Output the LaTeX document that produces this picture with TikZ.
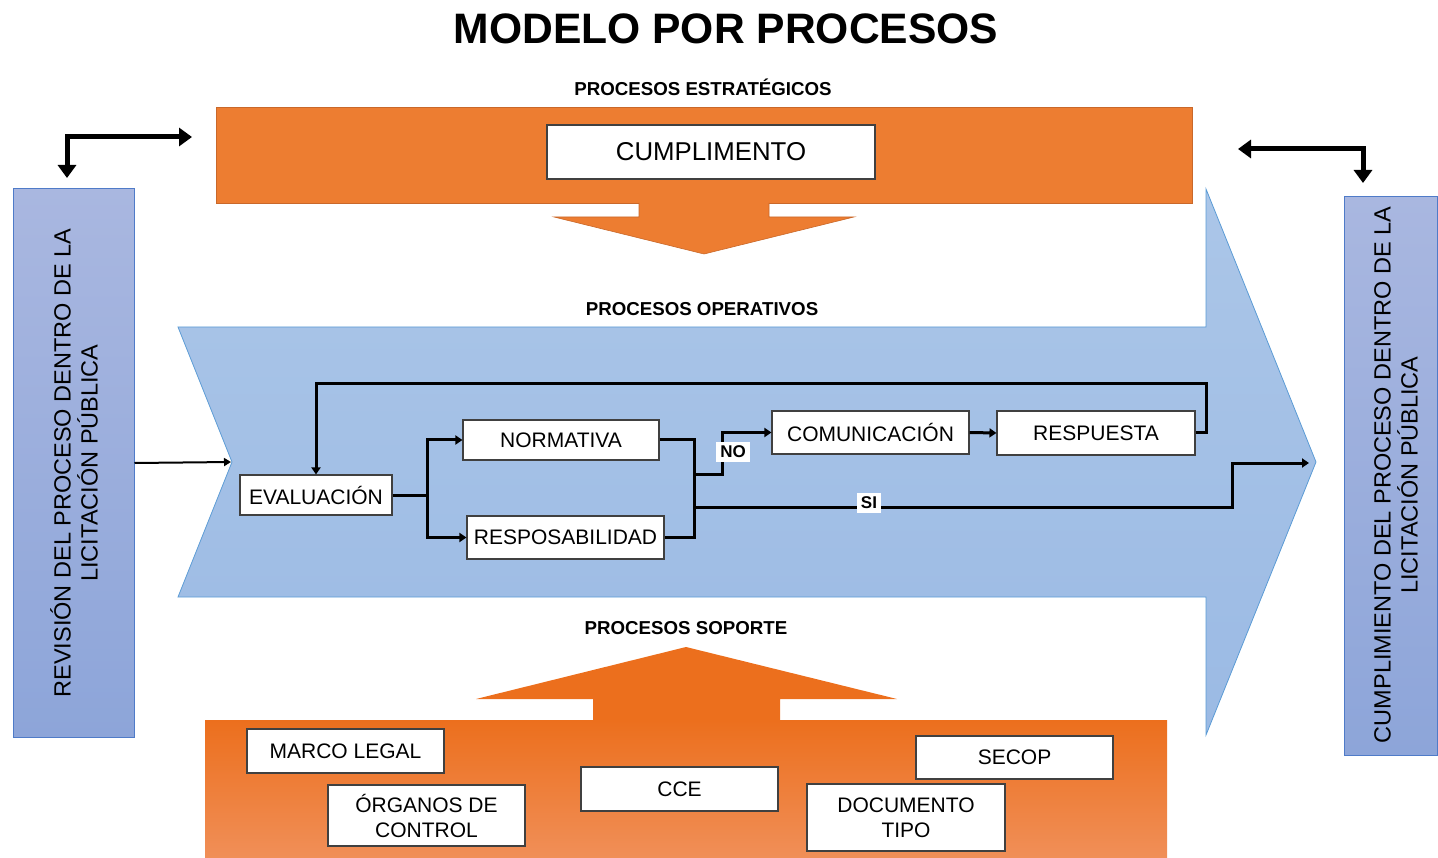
\documentclass[tikz,border=0pt]{standalone}
\usepackage{fontspec}
\setmainfont{Liberation Sans}
\usetikzlibrary{arrows.meta}
\definecolor{orTop}{HTML}{ED7D31}
\definecolor{orEdge}{HTML}{C9682A}
\definecolor{orBotA}{HTML}{EC6F1D}
\definecolor{orBotB}{HTML}{F08F58}
\definecolor{chevA}{HTML}{ABC6E8}
\definecolor{chevB}{HTML}{9BBAE4}
\definecolor{chevEdge}{HTML}{5B9BD5}
\definecolor{panA}{HTML}{A9B7E0}
\definecolor{panB}{HTML}{8DA5D9}
\definecolor{panEdge}{HTML}{4F7BC8}
\definecolor{boxEdge}{HTML}{404040}
\tikzset{
  wbox/.style={draw=boxEdge, line width=1.1pt, fill=white, inner sep=0pt, align=center,
    font=\fontsize{21}{25}\selectfont},
  secttitle/.style={font=\bfseries\fontsize{18.7}{22}\selectfont, inner sep=0pt},
  flow/.style={line width=3pt, line join=miter},
  flowarr/.style={flow, -{Triangle[width=9pt,length=7pt]}},
  bigarr/.style={line width=5pt, {Triangle[width=18pt,length=13pt]}-{Triangle[width=18pt,length=13pt]}},
  tag/.style={fill=white, inner sep=4pt, font=\bfseries\fontsize{17}{19}\selectfont},
  sidetext/.style={rotate=90, align=center, inner sep=0pt, font=\fontsize{23.5}{27}\selectfont},
  panel/.style={draw=panEdge, line width=1pt, top color=panA, bottom color=panB, inner sep=0pt}
}
\begin{document}
\begin{tikzpicture}[x=1pt,y=-1pt]
\useasboundingbox (0,0) rectangle (1438,858);

% title
\node[font=\bfseries\fontsize{42.6}{48}\selectfont, inner sep=0pt] (title) at (726,29) {MODELO POR PROCESOS};

% strategic processes
\node[secttitle] (estr) at (703,87) {PROCESOS ESTRATÉGICOS};
\fill[orTop, draw=orEdge, line width=0.8pt] (216,107) rectangle (1192,203);
\fill[orTop, draw=orEdge, line width=0.6pt] (639,203) -- (639,217) -- (554,217) -- (704,254) -- (854,217) -- (769,217) -- (769,203);
\fill[orTop] (640,200) rectangle (768,206);
\node[wbox, minimum width=328pt, minimum height=54pt, font=\fontsize{25.8}{29}\selectfont] (cumpl) at (711,152) {CUMPLIMENTO};

% big chevron arrow
\shadedraw[draw=chevEdge, line width=0.8pt, top color=chevA, bottom color=chevB]
  (178,327) -- (1206,327) -- (1206,189) -- (1316,462) -- (1206,735) -- (1206,597) -- (178,597) -- (232,462) -- cycle;
\coordinate (notch) at (231,462);
\node[secttitle] (oper) at (702,309) {PROCESOS OPERATIVOS};

% side panels
\node[panel, minimum width=121pt, minimum height=548pt] (lpanel) at (73.5,463) {};
\node[sidetext] (ltext) at (74,463) {REVISIÓN DEL PROCESO DENTRO DE LA\\LICITACIÓN PÚBLICA};
\node[panel, minimum width=93pt, minimum height=558pt] (rpanel) at (1390.5,476) {};
\node[sidetext] (rtext) at (1396,475) {CUMPLIMIENTO DEL PROCESO DENTRO DE LA\\LICITACIÓN PÚBLICA};

% elbow arrows
\coordinate (la1) at (67,178);
\coordinate (la2) at (192,137);
\draw[bigarr] (la1) |- (la2);
\coordinate (ra1) at (1238,149);
\coordinate (ra2) at (1363,183);
\draw[bigarr] (ra1) -| (ra2);

% entry arrow
\draw[line width=2pt, -{Triangle[width=8pt,length=7pt]}] (lpanel.east) -- (notch);

% process boxes
\node[wbox, minimum width=152pt, minimum height=40pt] (eval) at (316,495) {EVALUACIÓN};
\node[wbox, minimum width=196pt, minimum height=40pt] (norm) at (561,440) {NORMATIVA};
\node[wbox, minimum width=197pt, minimum height=43pt] (resp) at (565.5,537.5) {RESPOSABILIDAD};
\node[wbox, minimum width=197pt, minimum height=43pt] (comu) at (870.5,432.5) {COMUNICACIÓN};
\node[wbox, minimum width=198pt, minimum height=44pt] (rta) at (1096,433) {RESPUESTA};

% connectors
\coordinate (s1) at (427,495);
\draw[flow] (eval.east) -- (s1);
\draw[flowarr] (s1) |- (norm.west);
\draw[flowarr] (s1) |- (resp.west);
\coordinate (mtop) at (694,440);
\coordinate (mbot) at (694,537.5);
\draw[flow] (norm.east) -- (mtop) -- (mbot) -- (resp.east);
\coordinate (mno) at (694,474);
\coordinate (kno) at (722,474);
\draw[flowarr] (mno) -- (kno) |- (comu.west);
\draw[flowarr] (comu.east) -- (rta.west);
\coordinate (fb1) at (1206,433);
\coordinate (fb2) at (1206,384);
\coordinate (fb3) at (316,384);
\draw[flowarr] (rta.east) -- (fb1) -- (fb2) -- (fb3) -- (eval.north);
\coordinate (msi) at (694,507);
\coordinate (ksi) at (1232,507);
\coordinate (out) at (1309,463);
\draw[flowarr] (msi) -- (ksi) |- (out);
\node[tag] (no) at (733,452) {NO};
\node[tag] (si) at (869,503) {SI};

% support processes
\node[secttitle] (sop) at (686,628) {PROCESOS SOPORTE};
\shade[top color=orBotA, bottom color=orBotB] (205,720) rectangle (1167,858);
\fill[orBotA] (593,699) -- (476,699) -- (686,647) -- (897,699) -- (780,699) -- (780,721) -- (593,721) -- cycle;

\node[wbox, minimum width=197pt, minimum height=44pt] (marco) at (345.5,751) {MARCO LEGAL};
\node[wbox, minimum width=197pt, minimum height=61pt] (organos) at (426.5,815.5) {ÓRGANOS DE\\CONTROL};
\node[wbox, minimum width=197pt, minimum height=44pt] (cce) at (679.5,789) {CCE};
\node[wbox, minimum width=197pt, minimum height=43pt] (secop) at (1014.5,757.5) {SECOP};
\node[wbox, minimum width=198pt, minimum height=67pt] (doc) at (906,817.5) {DOCUMENTO\\TIPO};
\end{tikzpicture}
\end{document}
